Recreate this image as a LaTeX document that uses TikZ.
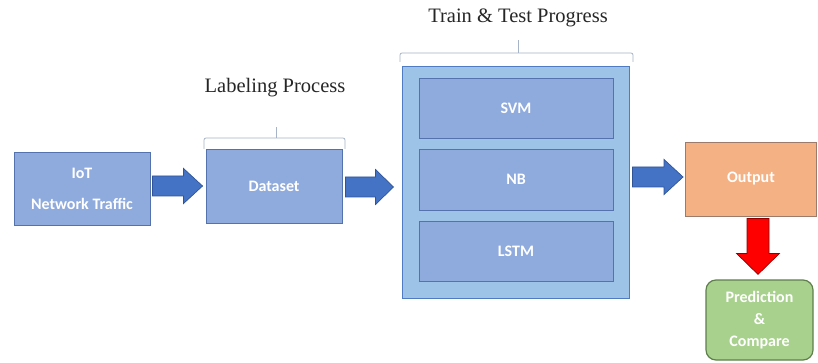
\documentclass[tikz,border=0pt]{standalone}
\usepackage{fontspec}
\setmainfont{Liberation Serif}
\newfontfamily\boxfont{Carlito}
\usetikzlibrary{calc}

% colours of the flow chart
\definecolor{boxfill}{HTML}{8FAADC}
\definecolor{boxline}{HTML}{5472AE}
\definecolor{outerfill}{HTML}{9DC3E6}
\definecolor{outerline}{HTML}{4F7BC0}
\definecolor{arrowfill}{HTML}{4472C4}
\definecolor{arrowline}{HTML}{2F5597}
\definecolor{outfill}{HTML}{F4B183}
\definecolor{outline}{HTML}{9C7B6A}
\definecolor{predfill}{HTML}{A9D18E}
\definecolor{predline}{HTML}{5F7F4C}
\definecolor{bracecol}{HTML}{A7B3C6}

\tikzset{
  stage/.style={draw=boxline, fill=boxfill, line width=0.9pt, inner sep=0pt,
    text=white, font=\boxfont\bfseries\fontsize{16}{19.2}\selectfont, align=center},
  title/.style={font=\fontsize{20.5}{24}\selectfont, text=black!85, inner sep=0pt},
  blockarrow/.style={fill=arrowfill, draw=arrowline, line width=0.7pt, line join=miter},
  redarrow/.style={fill=red, draw=red!55!black, line width=0.7pt, line join=miter},
  brace/.style={draw=bracecol, line width=0.8pt, rounded corners=2pt}
}

% horizontal block arrow: tail, tip, half shaft, half head, head length, style
\newcommand\harrow[6]{%
  \draw[#6] ($(#1)+(0,-#3)$) -- ($(#2)+(-#5,-#3)$) -- ($(#2)+(-#5,-#4)$) -- (#2)
    -- ($(#2)+(-#5,#4)$) -- ($(#2)+(-#5,#3)$) -- ($(#1)+(0,#3)$) -- cycle;}
% vertical (downward) block arrow
\newcommand\varrow[6]{%
  \draw[#6] ($(#1)+(-#3,0)$) -- ($(#2)+(-#3,-#5)$) -- ($(#2)+(-#4,-#5)$) -- (#2)
    -- ($(#2)+(#4,-#5)$) -- ($(#2)+(#3,-#5)$) -- ($(#1)+(#3,0)$) -- cycle;}

\begin{document}
\begin{tikzpicture}[x=1pt, y=-1pt]
  \useasboundingbox[fill=white] (0,0) rectangle (818,363);

  % stages
  \node[stage, minimum width=136pt, minimum height=73pt] (iot) at (82,188.5)
    {IoT\\[12pt]Network Traffic};
  \node[stage, minimum width=136pt, minimum height=74pt] (data) at (274,186) {Dataset};

  \node[draw=outerline, fill=outerfill, line width=1pt, minimum width=227pt,
    minimum height=231pt, inner sep=0pt] (outer) at (515.5,182.5) {};
  \node[stage, minimum width=194pt, minimum height=60pt] (svm) at (516,108) {SVM};
  \node[stage, minimum width=194pt, minimum height=61pt] (nb) at (516,179.5) {NB};
  \node[stage, minimum width=194pt, minimum height=60pt] (lstm) at (516,251) {LSTM};

  \node[stage, draw=outline, fill=outfill, minimum width=131pt, minimum height=74pt]
    (output) at (751,179) {Output};
  \node[stage, draw=predline, fill=predfill, rounded corners=10pt, line width=1.2pt,
    minimum width=107pt, minimum height=80pt] (pred) at (759.5,320)
    {Prediction\\[3pt]\&\\[3pt]Compare};

  % titles with their brackets
  \node[title] (labtitle) at (275,88) {Labeling Process};
  \node[title] (traintitle) at (518,18) {Train \& Test Progress};

  \draw[brace] (204,149) -- (204,138) -- (345,138) -- (345,149);
  \draw[brace] (276,138) -- (276,127);
  \draw[brace] (400,62) -- (400,53) -- (633,53) -- (633,62);
  \draw[brace] (518,53) -- (518,40);

  % block arrows between the stages
  \coordinate (a1s) at ($(iot.east)+(2,-2.5)$);
  \coordinate (a1e) at ($(iot.east -| data.west)+(-3,-2.5)$);
  \harrow{a1s}{a1e}{10}{17.5}{19}{blockarrow}

  \coordinate (a2s) at ($(data.east)+(3,1)$);
  \coordinate (a2e) at ($(data.east -| outer.west)+(-8,1)$);
  \harrow{a2s}{a2e}{10}{17.5}{18}{blockarrow}

  \coordinate (a3s) at ($(outer.east)+(3,-5.5)$);
  \coordinate (a3e) at ($(outer.east -| output.west)+(-2,-5.5)$);
  \harrow{a3s}{a3e}{10}{17.5}{19}{blockarrow}

  \coordinate (a4s) at ($(output.south)+(7,2)$);
  \coordinate (a4e) at ($(output.south |- pred.north)+(7,-5)$);
  \varrow{a4s}{a4e}{11}{21.5}{21}{redarrow}
\end{tikzpicture}
\end{document}
